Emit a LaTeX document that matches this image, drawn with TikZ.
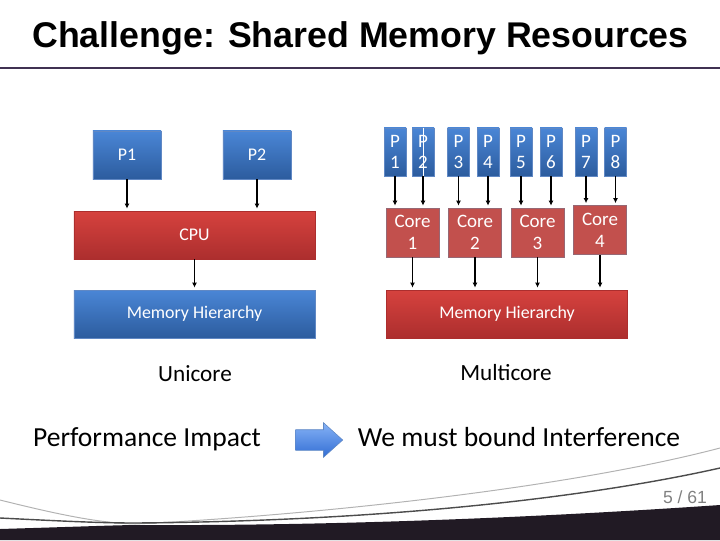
\documentclass[tikz,border=0pt]{standalone}
\usepackage{fontspec}
\setmainfont{Carlito}
\newfontfamily\titlefont{Liberation Sans}
\usetikzlibrary{arrows.meta,shapes.arrows}

\definecolor{bluetop}{RGB}{74,134,214}
\definecolor{bluebot}{RGB}{44,92,158}
\definecolor{blueline}{RGB}{96,136,196}
\definecolor{redtop}{RGB}{214,66,62}
\definecolor{redbot}{RGB}{172,46,46}
\definecolor{coreface}{RGB}{194,80,77}
\definecolor{coreline}{RGB}{150,104,116}
\definecolor{titleline}{RGB}{64,49,82}
\definecolor{banddark}{RGB}{33,26,36}
\definecolor{arrowtop}{RGB}{134,178,246}
\definecolor{arrowbot}{RGB}{50,110,212}

\newcommand{\boxfont}{\fontsize{12.7}{15.5}\selectfont}
\newcommand{\smallboxfont}{\fontsize{13.5}{14.6}\selectfont}

\tikzset{
  bluebox/.style={rectangle, top color=bluetop, bottom color=bluebot, draw=blueline,
    text=white, font=\boxfont, align=center, inner sep=0pt},
  redbox/.style={rectangle, top color=redtop, bottom color=redbot, draw=redbot,
    text=white, font=\boxfont, align=center, inner sep=0pt},
  corebox/.style={rectangle, fill=coreface, draw=coreline, text=white,
    font=\fontsize{13.5}{15.8}\selectfont, align=center, inner sep=0pt,
    minimum width=1.325cm, minimum height=1.225cm},
  link/.style={-{Latex[length=3.5pt,width=3.5pt]}, line width=1.4pt, shorten >=1.5pt},
}

\begin{document}
\begin{tikzpicture}[x=0.025cm, y=-0.025cm]
        \useasboundingbox (0,0) rectangle (720,540);

        % Title
        \node[anchor=base, font=\titlefont\bfseries\fontsize{25.4}{30}\selectfont] (title) at (360.5,47) {Challenge: Shared Memory Resources};
        \draw[titleline, line width=1.5pt] (0,68) -- (720,68);

        % Unicore side
        \node[bluebox, minimum width=1.7cm, minimum height=1.2cm] (p1) at (127,155) {P1};
        \node[bluebox, minimum width=1.7cm, minimum height=1.2cm] (p2) at (257,155) {P2};
        \node[redbox, minimum width=6.025cm, minimum height=1.2cm] (cpu) at (194.5,235) {CPU};
        \node[bluebox, minimum width=6.025cm, minimum height=1.2cm] (memL) at (194.5,314) {Memory Hierarchy};

        \draw[link] (p1.south) -- (p1.south |- cpu.north);
        \draw[link] (p2.south) -- (p2.south |- cpu.north);
        \draw[link] (cpu.south) -- (memL.north);

        % Multicore side
        \foreach \i/\x in {1/395, 2/423, 3/458.5, 4/488, 5/521, 6/551, 7/586, 8/615.5}
          \node[bluebox, font=\smallboxfont, minimum width=0.55cm, minimum height=1.2cm] (q\i) at (\x,152) {P\\\i};
        \draw[white, line width=0.6pt] (q2.north) -- (q2.south);

        \node[corebox] (c1) at (412.5,232.5) {Core\\1};
        \node[corebox] (c2) at (475,232.5) {Core\\2};
        \node[corebox] (c3) at (537.5,232.5) {Core\\3};
        \node[corebox] (c4) at (600,230) {Core\\4};
        \node[redbox, minimum width=6.025cm, minimum height=1.2cm] (memR) at (507,314) {Memory Hierarchy};

        \foreach \p/\c in {1/1, 2/1, 3/2, 4/2, 5/3, 6/3, 7/4, 8/4}
          \draw[link] (q\p.south) -- (q\p.south |- c\c.north);
        \foreach \c in {1,...,4}
          \draw[link] (c\c.south) -- (c\c.south |- memR.north);

        % Captions
        \node[anchor=base, font=\fontsize{16.5}{20}\selectfont] (uni) at (195,381) {Unicore};
        \node[anchor=base, font=\fontsize{16.5}{20}\selectfont] (multi) at (506,380) {Multicore};

        % Conclusion
        \node[anchor=base, font=\fontsize{19.6}{24}\selectfont] (perf) at (147,446) {Performance Impact};
        \node[single arrow, top color=arrowtop, bottom color=arrowbot, draw=blueline,
              minimum height=1.175cm, inner sep=0.25cm, single arrow head extend=0.175cm,
              single arrow tip angle=84] (fat) at (313.5,440) {};
        \node[anchor=base, font=\fontsize{19.6}{24}\selectfont] (bound) at (519,446) {We must bound Interference};

        % Footer
        \fill[banddark] (0,529) .. controls (100,526) and (120,525) .. (140,525)
                        .. controls (350,526) and (560,516) .. (720,505)
                        -- (720,540) -- (0,540) -- cycle;
        \draw[gray!60, line width=0.7pt] (0,500) .. controls (60,515) and (100,523) .. (135,524)
                        .. controls (300,516) and (560,490) .. (720,448);
        \draw[black!70, line width=1pt] (0,518) .. controls (60,521) and (100,523) .. (135,523)
                        .. controls (400,521) and (600,495) .. (720,468);
        \node[gray, font=\titlefont\fontsize{12.5}{15}\selectfont] (page) at (685,497) {5 / 61};
    \end{tikzpicture}
\end{document}
